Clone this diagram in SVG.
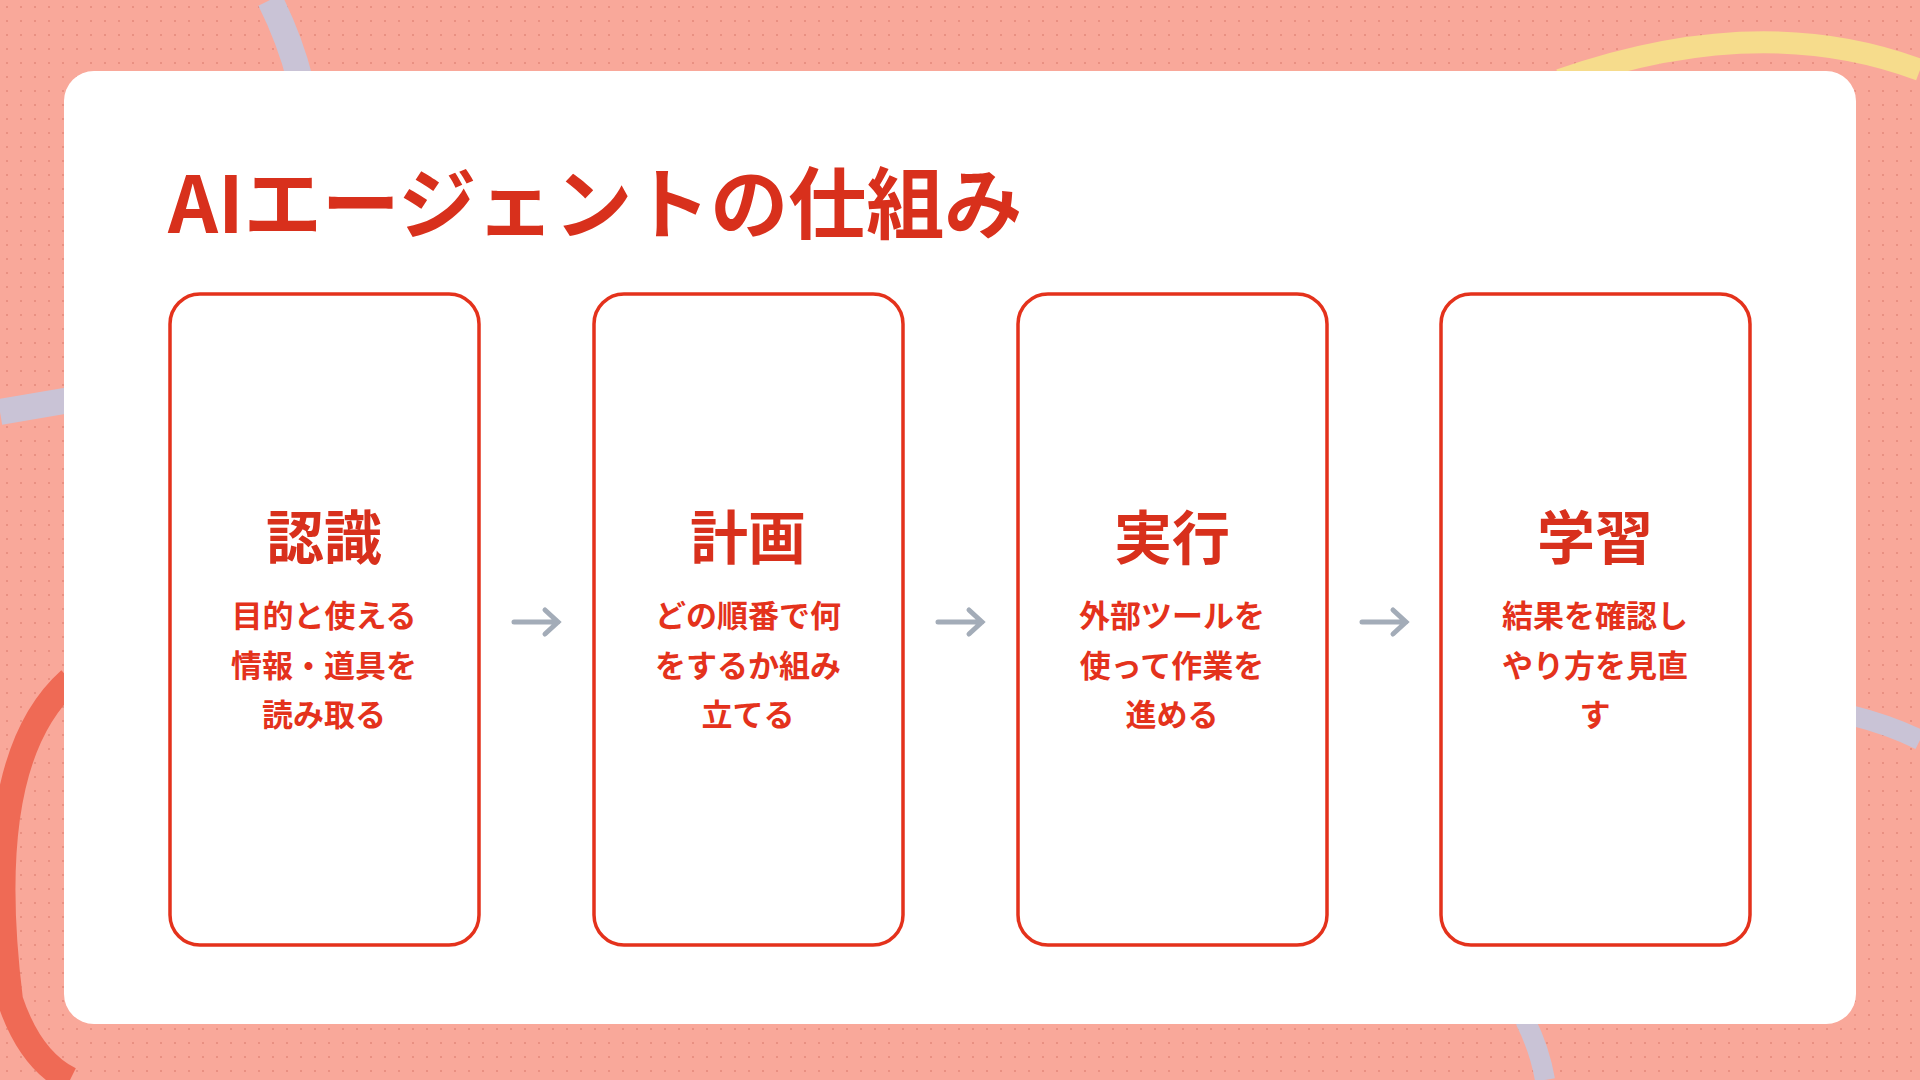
<svg xmlns="http://www.w3.org/2000/svg" width="1920" height="1080" viewBox="0 0 1920 1080">
<defs>
<pattern id="dots" width="14" height="14" patternUnits="userSpaceOnUse"><circle cx="7" cy="7" r="1.1" fill="#e58a7c"/></pattern>
<marker id="ah" markerWidth="10" markerHeight="10" refX="6" refY="5" orient="auto" markerUnits="userSpaceOnUse"><path d="M1,-3 L9,5 L1,13" transform="translate(0,0) scale(1)" fill="none" stroke="#a3acb8" stroke-width="5" stroke-linecap="round" stroke-linejoin="round"/></marker>
</defs>
<style>
.box{fill:#fff;stroke:#e4321c;stroke-width:3.5}
.h{font-family:"Noto Sans CJK JP",sans-serif;font-weight:700;font-size:58px;fill:#d8301c;text-anchor:middle}
.b{font-family:"Noto Sans CJK JP",sans-serif;font-weight:700;font-size:31px;fill:#e4321c;text-anchor:middle}
.arr{stroke:#a3acb8;stroke-width:5;stroke-linecap:round;fill:none}
</style>
<rect width="1920" height="1080" fill="#f9a89a"/>
<rect width="1920" height="1080" fill="url(#dots)"/>
<path d="M270,0 Q290,40 300,80" stroke="#c9c3d6" stroke-width="26" fill="none"/>
<path d="M0,412 Q40,405 70,400" stroke="#c9c3d6" stroke-width="26" fill="none"/>
<path d="M1560,80 Q1760,10 1920,70" stroke="#f6dc8c" stroke-width="22" fill="none"/>
<path d="M70,680 Q-20,760 10,1000 Q30,1060 70,1080" stroke="#ef6a55" stroke-width="26" fill="none"/>
<path d="M1850,715 Q1890,725 1920,740" stroke="#c9c3d6" stroke-width="20" fill="none"/>
<path d="M1525,1020 Q1540,1050 1545,1080" stroke="#c9c3d6" stroke-width="20" fill="none"/>
<rect x="64" y="71" width="1792" height="953" rx="30" fill="#fff"/>
<text x="168" y="233" font-family="'Noto Sans CJK JP',sans-serif" font-weight="700" font-size="78" fill="#d8301c">AIエージェントの仕組み</text>
<g id="n1"><rect class="box" x="170" y="294" width="309" height="651" rx="30"/><text class="h" x="324" y="559">認識</text><text class="b" x="324" y="627">目的と使える</text><text class="b" x="324" y="677">情報・道具を</text><text class="b" x="324" y="726">読み取る</text></g>
<g id="n2"><rect class="box" x="594" y="294" width="309" height="651" rx="30"/><text class="h" x="748" y="559">計画</text><text class="b" x="748" y="627">どの順番で何</text><text class="b" x="748" y="677">をするか組み</text><text class="b" x="748" y="726">立てる</text></g>
<g id="n3"><rect class="box" x="1018" y="294" width="309" height="651" rx="30"/><text class="h" x="1172" y="559">実行</text><text class="b" x="1172" y="627">外部ツールを</text><text class="b" x="1172" y="677">使って作業を</text><text class="b" x="1172" y="726">進める</text></g>
<g id="n4"><rect class="box" x="1441" y="294" width="309" height="651" rx="30"/><text class="h" x="1595" y="559">学習</text><text class="b" x="1595" y="627">結果を確認し</text><text class="b" x="1595" y="677">やり方を見直</text><text class="b" x="1595" y="726">す</text></g>
<g id="connectors">
<path class="arr" d="M514,622 H558 M545,610 L558,622 L545,634"/>
<path class="arr" d="M938,622 H982 M969,610 L982,622 L969,634"/>
<path class="arr" d="M1362,622 H1406 M1393,610 L1406,622 L1393,634"/>
</g>
</svg>
